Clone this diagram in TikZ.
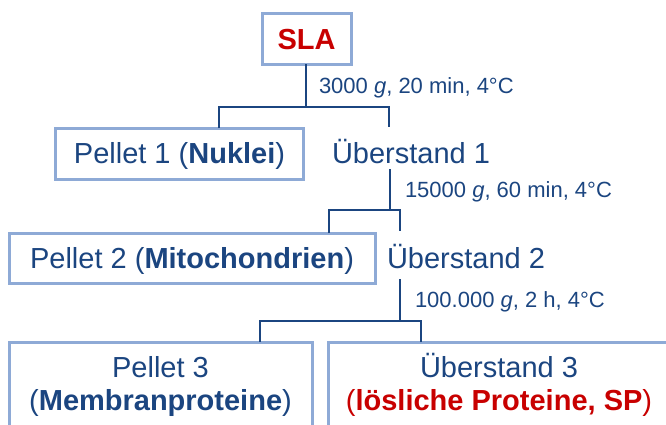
\documentclass[tikz,border=0pt]{standalone}
\usepackage{fontspec}
\setmainfont{Liberation Sans}
\definecolor{dblue}{HTML}{1B4580}
\definecolor{lblue}{HTML}{8EAAD6}
\definecolor{dred}{HTML}{C80000}
\begin{document}
\begin{tikzpicture}[x=1pt,y=-1pt,
  box/.style={draw=lblue,line width=3pt,inner sep=0pt,outer sep=0pt,text=dblue,
    font=\fontsize{29}{33}\selectfont},
  txt/.style={inner sep=0pt,outer sep=0pt,text=dblue,font=\fontsize{29}{33}\selectfont},
  lab/.style={inner sep=0pt,outer sep=0pt,text=dblue,font=\fontsize{22}{26}\selectfont},
  conn/.style={draw=dblue,line width=2.8pt}]
\clip (0,0) rectangle (666,424);
\useasboundingbox (0,0) rectangle (666,424);
% boxes
\node[box,minimum width=89pt,minimum height=51pt] (sla) at (306.5,38.5) {};
\node[txt,anchor=base,text=dred,font=\fontsize{29}{33}\selectfont\bfseries] (slat) at (306.5,49) {SLA};
\node[box,minimum width=248pt,minimum height=51pt] (p1) at (179,153.5) {};
\node[txt,anchor=base] (p1t) at (179.5,163.5) {Pellet 1 (\textbf{Nuklei})};
\node[txt,anchor=base west] (u1) at (332,163.5) {Überstand 1};
\node[box,minimum width=366pt,minimum height=50pt] (p2) at (192,258) {};
\node[txt,anchor=base] (p2t) at (192,268) {Pellet 2 (\textbf{Mitochondrien})};
\node[txt,anchor=base west] (u2) at (387,268) {Überstand 2};
\node[box,minimum width=303pt,minimum height=120pt,anchor=north west] (p3) at (9,342) {};
\node[txt,anchor=base,align=center] (p3t) at (160.5,410) {Pellet 3\\(\textbf{Membranproteine})};
\node[box,minimum width=344pt,minimum height=120pt,anchor=north west] (u3) at (328,342) {};
\node[txt,anchor=base,align=center] (u3t) at (499,410) {Überstand 3\\\textcolor{dred}{(\textbf{lösliche Proteine, SP})}};
% labels
\node[lab,anchor=base west] (l1) at (319,93) {3000 \textit{g}, 20 min, 4°C};
\node[lab,anchor=base west] (l2) at (405,197) {15000 \textit{g}, 60 min, 4°C};
\node[lab,anchor=base west] (l3) at (415,307) {100.000 \textit{g}, 2 h, 4°C};
% connectors
\coordinate (j1) at (306,107);
\coordinate (a1) at (219,107);
\coordinate (b1) at (389,107);
\coordinate (b1e) at (389,127);
\draw[conn] (sla.south -| j1) -- (j1);
\draw[conn] (p1.north -| a1) -- (a1) -- (b1) -- (b1e);
\coordinate (s2) at (390,169);
\coordinate (j2) at (390,210);
\coordinate (a2) at (329,210);
\coordinate (b2) at (400,210);
\coordinate (b2e) at (400,231);
\draw[conn] (s2) -- (j2);
\draw[conn] (p2.north -| a2) -- (a2) -- (b2) -- (b2e);
\coordinate (s3) at (400,279);
\coordinate (j3) at (400,321);
\coordinate (a3) at (260,321);
\coordinate (b3) at (421,321);
\draw[conn] (s3) -- (j3);
\draw[conn] (p3.north -| a3) -- (a3) -- (b3) -- (u3.north -| b3);
\end{tikzpicture}
\end{document}
